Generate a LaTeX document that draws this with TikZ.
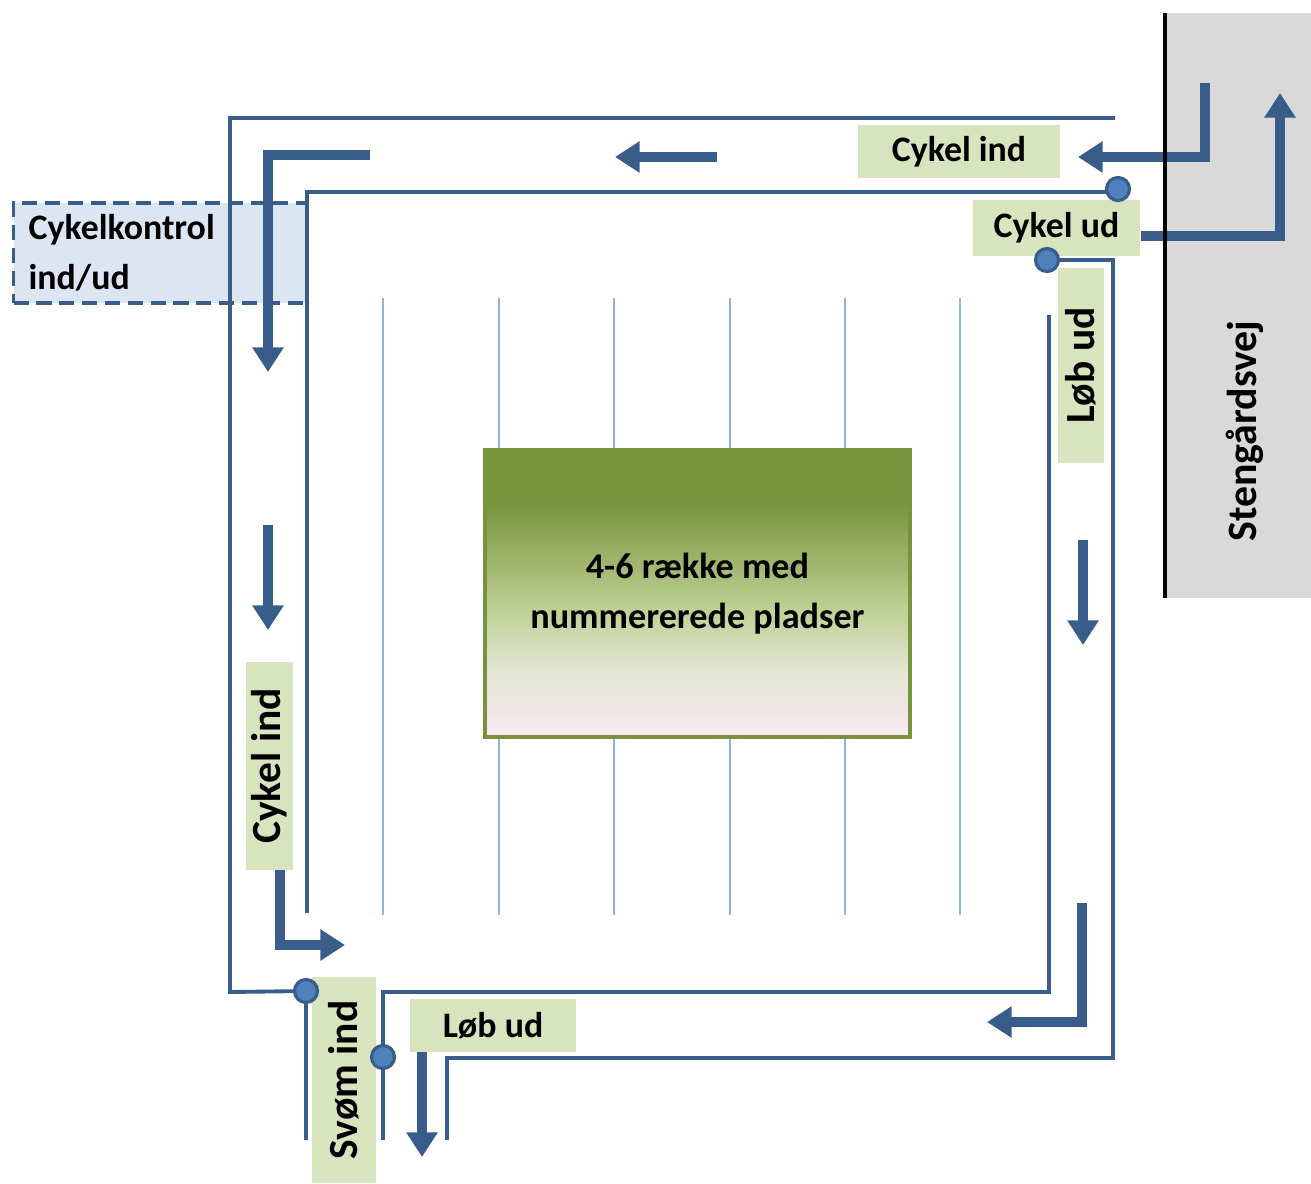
\documentclass[tikz,border=0pt]{standalone}
\usepackage{fontspec}
\setmainfont{Carlito}
\usetikzlibrary{arrows.meta}

\definecolor{lanecol}{HTML}{385D8A}
\definecolor{dotcol}{HTML}{4F81BD}
\definecolor{tagcol}{HTML}{D7E4BD}
\definecolor{rowcol}{HTML}{95B3D7}
\definecolor{checkcol}{HTML}{DCE6F2}
\definecolor{roadcol}{HTML}{D9D9D9}
\definecolor{parkolive}{HTML}{77933C}
\definecolor{parklight}{HTML}{BFD195}
\definecolor{parkpale}{HTML}{E4E6D6}
\definecolor{parkpink}{HTML}{F8E8F0}
\pgfdeclareverticalshading{parkshade}{100bp}{color(0bp)=(parkpink); color(26bp)=(parkpink); color(36bp)=(parkpale); color(47bp)=(parklight); color(66bp)=(parkolive); color(100bp)=(parkolive)}

\begin{document}
\begin{tikzpicture}[
    font=\bfseries\fontsize{10.2}{14.2}\selectfont,
    lane/.style={draw=lanecol, line width=1.1pt},
    flow/.style={draw=lanecol, line width=2.6pt, -{Triangle[length=7pt,width=8.5pt]}},
    lanetag/.style={fill=tagcol, inner sep=0pt},
    uptag/.style={lanetag, rotate=90, font=\bfseries\fontsize{11.8}{14}\selectfont},
    junction/.style={circle, fill=dotcol, draw=lanecol, line width=0.9pt, minimum size=0.23cm, inner sep=0pt},
    row/.style={draw=rowcol, line width=0.7pt}]
    \useasboundingbox (0,0) rectangle (13.11,-11.83);

    % road
    \fill[roadcol] (11.65,-0.13) rectangle (13.11,-5.98);
    \node[rotate=90, font=\bfseries\fontsize{11.9}{14}\selectfont] (road) at (12.45,-4.31) {Stengårdsvej};

    % control area
    \node[draw=lanecol, dashed, dash pattern=on 4.3pt off 2.2pt, line width=0.9pt, fill=checkcol,
        anchor=west, minimum width=2.93cm, minimum height=0.90cm, text width=2.63cm,
        inner xsep=0.15cm, align=left] (check) at (0.12,-2.53) {Cykelkontrol\\ind/ud};

    % rows of places
    \foreach \x in {3.83,4.99,6.14,7.30,8.45,9.60}
        \draw[row] (\x,-2.98) -- (\x,-9.15);
    \node[draw=parkolive, line width=1pt, shading=parkshade, minimum width=4.25cm,
        minimum height=2.87cm, align=center, font=\bfseries\fontsize{10.3}{14.4}\selectfont]
        (park) at (6.975,-5.935) {4-6 række med\\nummererede pladser};

    % lanes
    \coordinate (ne) at (11.18,-1.89);
    \coordinate (e) at (10.47,-2.60);
    \coordinate (sw) at (3.06,-9.91);
    \coordinate (s) at (3.83,-10.57);
    \draw[lane] (11.15,-1.18) -- (2.30,-1.18) -- (2.30,-9.92) -- (sw) -- (3.06,-11.40);
    \draw[lane] (ne) -- (11.18,-1.92) -- (3.07,-1.92) -- (3.07,-9.13);
    \draw[lane] (3.83,-11.40) -- (3.83,-9.92) -- (10.49,-9.92) -- (10.49,-3.15);
    \draw[lane] (e) -- (11.13,-2.60) -- (11.13,-10.58) -- (4.47,-10.58) -- (4.47,-11.40);

    % labels
    \node[lanetag, minimum width=2.02cm, minimum height=0.53cm] (cin) at (9.59,-1.515) {Cykel ind};
    \node[lanetag, minimum width=1.67cm, minimum height=0.56cm] (cud) at (10.565,-2.28) {Cykel ud};
    \node[uptag, minimum width=1.95cm, minimum height=0.46cm] (lud) at (10.81,-3.655) {Løb ud};
    \node[uptag, minimum width=2.08cm, minimum height=0.47cm] (cinl) at (2.695,-7.66) {Cykel ind};
    \node[uptag, minimum width=2.06cm, minimum height=0.64cm] (svom) at (3.44,-10.80) {Svøm ind};
    \node[lanetag, minimum width=1.66cm, minimum height=0.53cm] (lub) at (4.93,-10.255) {Løb ud};

    % flow arrows
    \draw[flow] (3.70,-1.55) -- (2.68,-1.55) -- (2.68,-3.72);
    \draw[flow] (7.17,-1.57) -- (6.15,-1.57);
    \draw[flow] (12.05,-0.83) -- (12.05,-1.57) -- (10.78,-1.57);
    \draw[flow] ([yshift=-0.08cm]cud.east) -| (12.80,-0.93);
    \draw[flow] (2.68,-5.25) -- (2.68,-6.30);
    \draw[flow] (2.80,-8.70) -- (2.80,-9.45) -- (3.45,-9.45);
    \draw[flow] (4.22,-10.52) -- (4.22,-11.57);
    \draw[flow] (10.83,-5.40) -- (10.83,-6.45);
    \draw[flow] (10.82,-9.03) -- (10.82,-10.22) -- (9.87,-10.22);

    \draw[line width=1.2pt] (11.65,-0.13) -- (11.65,-5.98);

    % junctions
    \foreach \p in {ne,e,sw,s}
        \node[junction] at (\p) {};
\end{tikzpicture}
\end{document}
